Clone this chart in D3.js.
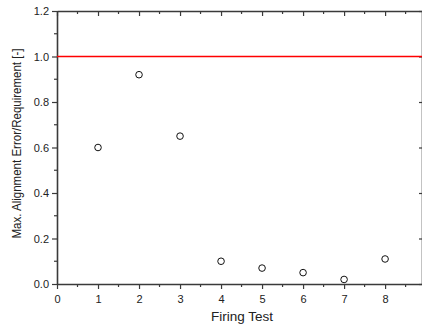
<!DOCTYPE html>
<html>
<head>
<meta charset="utf-8">
<script src="https://cdn.jsdelivr.net/npm/d3@7"></script>
<style>
  body { margin: 0; background: #fff; }
  svg { display: block; }
  text { font-family: "Liberation Sans", Arial, sans-serif; fill: #222; }
</style>
</head>
<body>
<div id="chart"></div>
<script>
var tests = [1, 2, 3, 4, 5, 6, 7, 8];
var ratios = [0.60, 0.92, 0.65, 0.10, 0.07, 0.05, 0.02, 0.11];
var xTicks = [0, 1, 2, 3, 4, 5, 6, 7, 8];
var yTicks = [0.0, 0.2, 0.4, 0.6, 0.8, 1.0, 1.2];
var requirement = 1.0;

var width = 422, height = 328;
var margin = { top: 11, right: 0, bottom: 44, left: 57 };

var svg = d3.select("#chart")
    .append("svg")
    .attr("width", width)
    .attr("height", height);

var x = d3.scaleLinear()
    .domain([0, 8.9])
    .range([margin.left, width - margin.right]);

var y = d3.scaleLinear()
    .domain([0, 1.2])
    .range([height - margin.bottom, margin.top]);

var axisColor = "#3a3a3a";

// minor tick positions
var xMinor = d3.range(0.5, 8.9, 1);
var yMinor = d3.range(0.1, 1.2, 0.2);

// bottom axis
var bottomAxis = svg.append("g")
    .attr("transform", "translate(0," + y(0) + ")")
    .call(d3.axisBottom(x).tickValues(xTicks).tickFormat(d3.format("d")).tickSize(5).tickSizeOuter(0));
bottomAxis.append("g").selectAll("line")
    .data(xMinor).enter().append("line")
    .attr("x1", d => x(d)).attr("x2", d => x(d))
    .attr("y1", 0).attr("y2", 3);

// top axis, ticks inward
var topAxis = svg.append("g")
    .attr("transform", "translate(0," + y(1.2) + ")")
    .call(d3.axisTop(x).tickValues(xTicks).tickFormat("").tickSize(-5).tickSizeOuter(0));
topAxis.append("g").selectAll("line")
    .data(xMinor).enter().append("line")
    .attr("x1", d => x(d)).attr("x2", d => x(d))
    .attr("y1", 0).attr("y2", 3);

// left axis
var leftAxis = svg.append("g")
    .attr("transform", "translate(" + x(0) + ",0)")
    .call(d3.axisLeft(y).tickValues(yTicks).tickFormat(d3.format(".1f")).tickSize(5).tickSizeOuter(0));
leftAxis.append("g").selectAll("line")
    .data(yMinor).enter().append("line")
    .attr("y1", d => y(d)).attr("y2", d => y(d))
    .attr("x1", 0).attr("x2", -3);

// right axis (sits on the edge), ticks inward
svg.append("g")
    .attr("transform", "translate(" + x(8.9) + ",0)")
    .call(d3.axisRight(y).tickValues(yTicks).tickFormat("").tickSize(-3).tickSizeOuter(0));

svg.selectAll(".domain").attr("stroke", axisColor).attr("stroke-width", 1.6);
svg.selectAll(".tick line").attr("stroke", axisColor).attr("stroke-width", 1.2);
svg.selectAll("g g line").attr("stroke", axisColor).attr("stroke-width", 1.2);
svg.selectAll(".tick text")
    .style("font-size", "11px")
    .style("font-family", "'Liberation Sans', Arial, sans-serif")
    .attr("fill", "#222");
bottomAxis.selectAll(".tick text").attr("dy", "0.97em");

// requirement line
svg.append("line")
    .attr("x1", x(0)).attr("x2", x(8.9))
    .attr("y1", y(requirement)).attr("y2", y(requirement))
    .attr("stroke", "#ff0000")
    .attr("stroke-width", 1.5);

// points
svg.selectAll("circle.pt")
    .data(tests).enter()
    .append("circle")
    .attr("class", "pt")
    .attr("cx", d => x(d))
    .attr("cy", (d, i) => y(ratios[i]))
    .attr("r", 3.3)
    .attr("fill", "none")
    .attr("stroke", "#111")
    .attr("stroke-width", 1);

// axis titles
svg.append("text")
    .attr("x", 242)
    .attr("y", 321)
    .attr("text-anchor", "middle")
    .attr("textLength", 62)
    .attr("lengthAdjust", "spacingAndGlyphs")
    .style("font-size", "13px")
    .text("Firing Test");

svg.append("text")
    .attr("transform", "translate(21,143.5) rotate(-90)")
    .attr("text-anchor", "middle")
    .attr("textLength", 190)
    .attr("lengthAdjust", "spacingAndGlyphs")
    .style("font-size", "12px")
    .text("Max. Alignment Error/Requirement [-]");
</script>
</body>
</html>
